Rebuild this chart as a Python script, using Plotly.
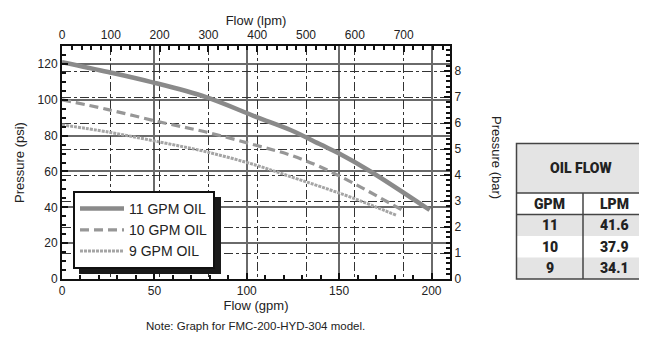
import plotly.graph_objects as go

# flow (gpm) vs pressure (psi)
gpm_11 = [0, 25, 48, 78, 105, 124, 140, 150, 167, 199]
psi_11 = [121, 115.5, 110, 101.5, 90.5, 83, 75, 70, 60, 38.5]
gpm_10 = [0, 25, 53, 78, 105, 124, 140, 158, 184]
psi_10 = [100, 94.5, 87.6, 82, 74.6, 69, 62.5, 53.3, 38.5]
gpm_9 = [0, 25, 53, 78, 105, 124, 140, 158, 181]
psi_9 = [86, 82, 76.4, 71, 63.5, 57, 51.5, 45, 35.5]

# oil flow table
tbl_gpm = ['11', '10', '9']
tbl_lpm = ['41.6', '37.9', '34.1']

GPM_TO_LPM = 3.78541
PSI_PER_BAR = 14.5038
X_MAX = 210
Y_MAX = 130

FONT = 'Liberation Sans, Arial, sans-serif'
NARROW = 'Roboto, Liberation Sans, sans-serif'

# page body margin pushes the figure 8px right/down
OFF = 8
W, H = 647 - OFF, 337 - OFF
# plot area in window pixels
L, R, T, B = 62, 450, 46, 279
def px(x):
    return (x - L) / (R - L)
def py(y):
    return (B - y) / (B - T)

fig = go.Figure()
fig.add_trace(go.Scatter(x=gpm_11, y=psi_11, mode='lines', name='11 GPM OIL',
                         line=dict(color='#8a8a8a', width=4.5, shape='spline')))
fig.add_trace(go.Scatter(x=gpm_10, y=psi_10, mode='lines', name='10 GPM OIL',
                         line=dict(color='#979797', width=3.2, dash='9px,5px', shape='spline')))
fig.add_trace(go.Scatter(x=gpm_9, y=psi_9, mode='lines', name='9 GPM OIL',
                         line=dict(color='#a5a5a5', width=3, dash='3px,1px', shape='spline')))
# invisible trace to bring up the lpm / bar axes
fig.add_trace(go.Scatter(x=[0], y=[0], xaxis='x2', yaxis='y2', mode='markers',
                         marker=dict(opacity=0), showlegend=False, hoverinfo='skip'))

tickfont = dict(family=FONT, size=12, color='#222')
common = dict(zeroline=False, showline=True, linecolor='#111', linewidth=2,
              ticks='inside', ticklen=6, tickcolor='#111', tickwidth=1.5,
              tickfont=tickfont, automargin=False, showgrid=True)
fig.update_layout(
    width=W, height=H,
    margin=dict(l=L - OFF, r=W - (R - OFF), t=T - OFF, b=H - (B - OFF), autoexpand=False),
    paper_bgcolor='white', plot_bgcolor='white',
    font=dict(family=FONT, color='#222'),
    xaxis=dict(range=[0, X_MAX], dtick=50, tick0=0,
               gridcolor='#6a6a6a', gridwidth=1.6,
               minor=dict(dtick=10, ticks='inside', ticklen=4, tickcolor='#111', showgrid=False),
               title=dict(text='Flow (gpm)', font=dict(size=13, family=FONT), standoff=0),
               **common),
    yaxis=dict(range=[0, Y_MAX], dtick=20, tick0=0,
               gridcolor='#6a6a6a', gridwidth=1.6,
               minor=dict(dtick=5, ticks='inside', ticklen=4, tickcolor='#111', showgrid=False),
               title=dict(text='Pressure (psi)', font=dict(size=13, family=FONT), standoff=10),
               **common),
    xaxis2=dict(overlaying='x', side='top', range=[0, X_MAX * GPM_TO_LPM], dtick=100, tick0=0,
                gridcolor='#333', gridwidth=1, griddash='dashdot',
                minor=dict(dtick=20, ticks='inside', ticklen=4, tickcolor='#111', showgrid=False),
                title=dict(text='Flow (lpm)', font=dict(size=13, family=FONT), standoff=0),
                **common),
    yaxis2=dict(overlaying='y', side='right', range=[0, Y_MAX / PSI_PER_BAR], dtick=1, tick0=0,
                gridcolor='#333', gridwidth=1, griddash='dashdot',
                minor=dict(dtick=0.2, ticks='inside', ticklen=4, tickcolor='#111', showgrid=False),
                **common),
    legend=dict(x=px(73), y=py(191), xanchor='left', yanchor='top',
                bgcolor='white', bordercolor='#111', borderwidth=2, itemwidth=44,
                font=dict(family=FONT, size=14, color='#222'), tracegroupgap=2),
    showlegend=True,
)

shapes = []
# legend drop shadow
shapes.append(dict(type='rect', xref='paper', yref='paper', layer='above',
                   x0=px(79), x1=px(221), y0=py(197), y1=py(274),
                   fillcolor='#1a1a1a', line=dict(width=0)))

# oil flow table
tl, tm, tr = 516.5, 583, 645.5
rows = [143.5, 193, 214.5, 236, 257.5, 279]
fills = ['#e4e4e4', 'white', '#e4e4e4', 'white', '#e4e4e4']
for i, f in enumerate(fills):
    shapes.append(dict(type='rect', xref='paper', yref='paper',
                       x0=px(tl), x1=px(tr), y0=py(rows[i]), y1=py(rows[i + 1]),
                       fillcolor=f, line=dict(width=0)))
shapes.append(dict(type='rect', xref='paper', yref='paper',
                   x0=px(tl), x1=px(tr), y0=py(rows[0]), y1=py(rows[-1]),
                   line=dict(color='#444', width=1.5)))
for yy in rows[1:3]:
    shapes.append(dict(type='line', xref='paper', yref='paper',
                       x0=px(tl), x1=px(tr), y0=py(yy), y1=py(yy),
                       line=dict(color='#444', width=1.5)))
shapes.append(dict(type='line', xref='paper', yref='paper',
                   x0=px(tm), x1=px(tm), y0=py(rows[1]), y1=py(rows[-1]),
                   line=dict(color='#444', width=1.5)))

annotations = []
tfont = dict(family=NARROW, size=14, color='#222', weight=900)
def cell(text, x, y):
    annotations.append(dict(text=text, xref='paper', yref='paper',
                            x=px(x), y=py(y), showarrow=False, font=tfont,
                            xanchor='center', yanchor='middle'))
cell('OIL FLOW', (tl + tr) / 2, (rows[0] + rows[1]) / 2)
cell('GPM', (tl + tm) / 2, (rows[1] + rows[2]) / 2)
cell('LPM', (tm + tr) / 2, (rows[1] + rows[2]) / 2)
for i in range(len(tbl_gpm)):
    yc = (rows[i + 2] + rows[i + 3]) / 2
    cell(tbl_gpm[i], (tl + tm) / 2, yc)
    cell(tbl_lpm[i], (tm + tr) / 2, yc)

annotations.append(dict(text='Pressure (bar)', xref='paper', yref='paper',
                        x=px(497), y=py(157), textangle=90, showarrow=False,
                        font=dict(family=FONT, size=13, color='#222'),
                        xanchor='center', yanchor='middle'))
annotations.append(dict(text='Note: Graph for FMC-200-HYD-304 model.', xref='paper', yref='paper',
                        x=px(255), y=py(326), showarrow=False,
                        font=dict(family=FONT, size=11.5, color='#222'),
                        xanchor='center', yanchor='middle'))

fig.update_layout(shapes=shapes, annotations=annotations)
fig.write_html("out.html")
